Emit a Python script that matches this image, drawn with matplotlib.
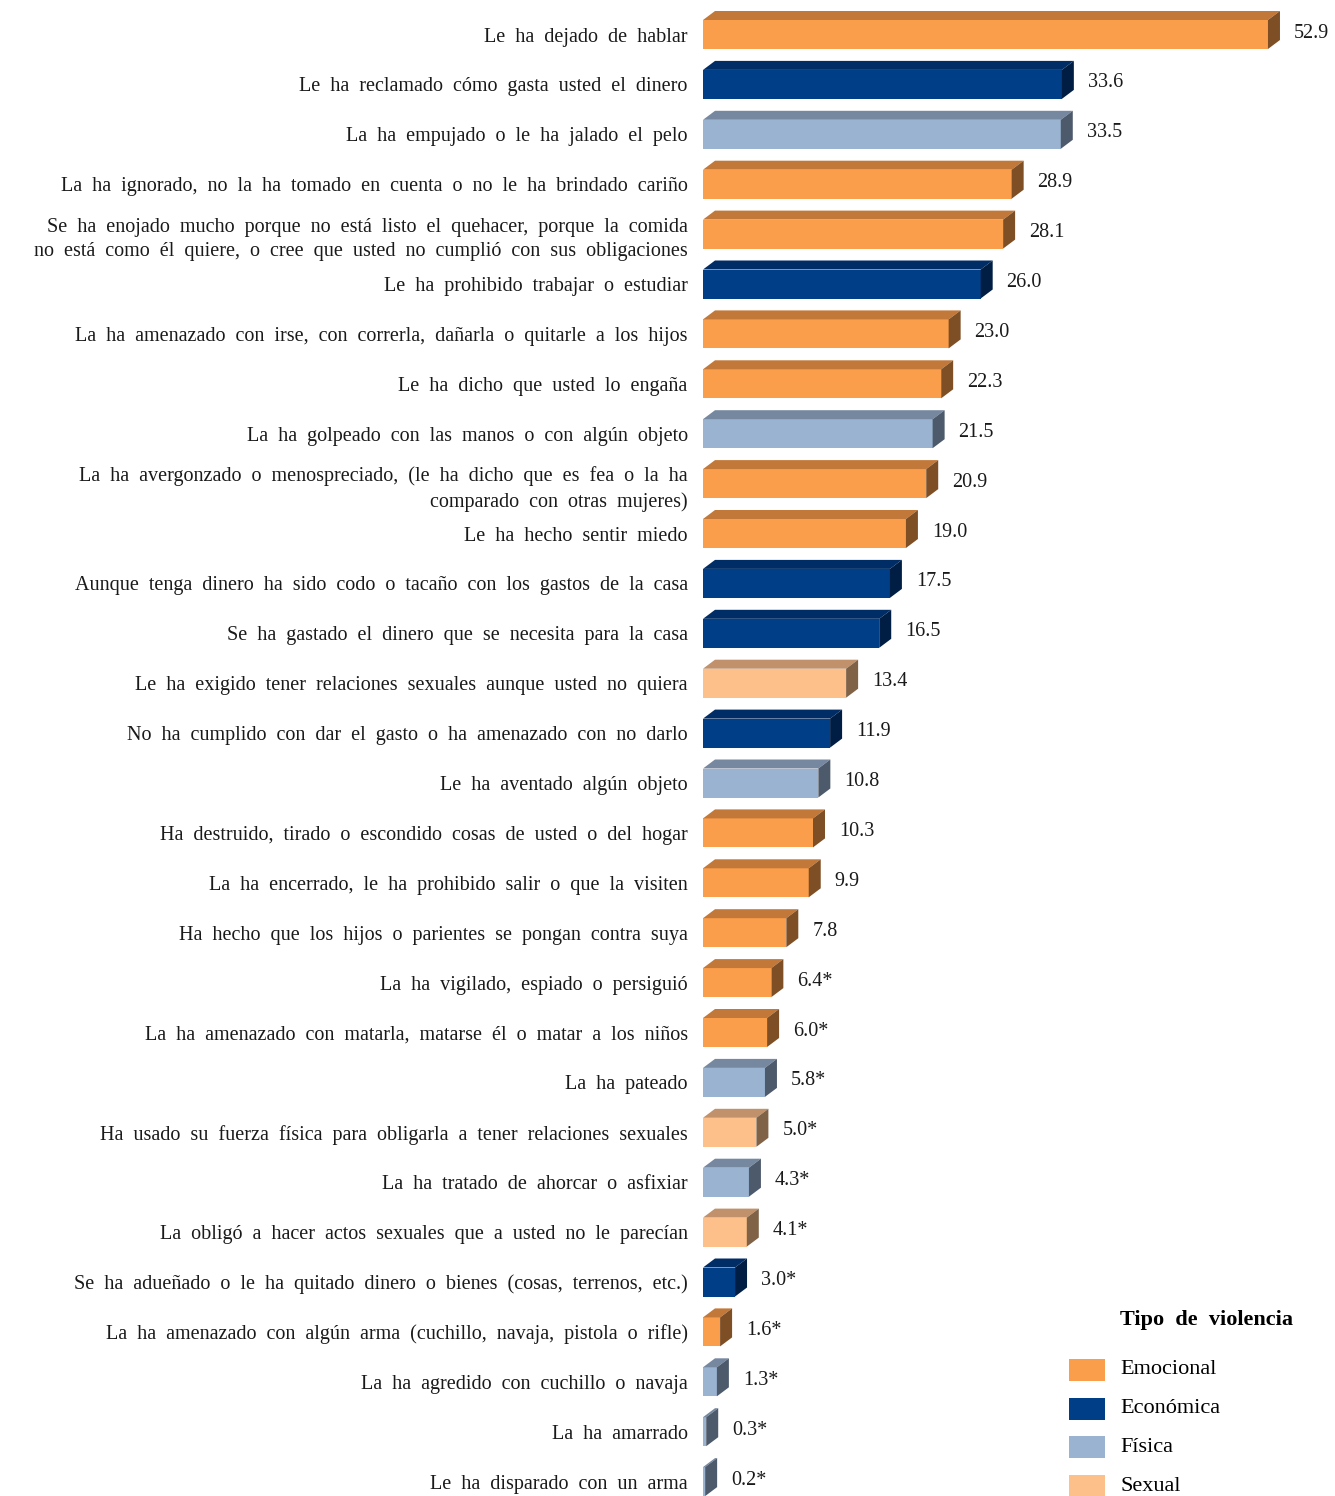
import numpy as np
import matplotlib.pyplot as plt
from matplotlib.patches import Polygon, Rectangle

plt.rcParams["font.family"] = ["Liberation Serif", "DejaVu Serif"]

# --- data (top to bottom) ---
labels = [
    "Le ha dejado de hablar",
    "Le ha reclamado cómo gasta usted el dinero",
    "La ha empujado o le ha jalado el pelo",
    "La ha ignorado, no la ha tomado en cuenta o no le ha brindado cariño",
    "Se ha enojado mucho porque no está listo el quehacer, porque la comida\n"
    "no está como él quiere, o cree que usted no cumplió con sus obligaciones",
    "Le ha prohibido trabajar o estudiar",
    "La ha amenazado con irse, con correrla, dañarla o quitarle a los hijos",
    "Le ha dicho que usted lo engaña",
    "La ha golpeado con las manos o con algún objeto",
    "La ha avergonzado o menospreciado, (le ha dicho que es fea o la ha\n"
    "comparado con otras mujeres)",
    "Le ha hecho sentir miedo",
    "Aunque tenga dinero ha sido codo o tacaño con los gastos de la casa",
    "Se ha gastado el dinero que se necesita para la casa",
    "Le ha exigido tener relaciones sexuales aunque usted no quiera",
    "No ha cumplido con dar el gasto o ha amenazado con no darlo",
    "Le ha aventado algún objeto",
    "Ha destruido, tirado o escondido cosas de usted o del hogar",
    "La ha encerrado, le ha prohibido salir o que la visiten",
    "Ha hecho que los hijos o parientes se pongan contra suya",
    "La ha vigilado, espiado o persiguió",
    "La ha amenazado con matarla, matarse él o matar a los niños",
    "La ha pateado",
    "Ha usado su fuerza física para obligarla a tener relaciones sexuales",
    "La ha tratado de ahorcar o asfixiar",
    "La obligó a hacer actos sexuales que a usted no le parecían",
    "Se ha adueñado o le ha quitado dinero o bienes (cosas, terrenos, etc.)",
    "La ha amenazado con algún arma (cuchillo, navaja, pistola o rifle)",
    "La ha agredido con cuchillo o navaja",
    "La ha amarrado",
    "Le ha disparado con un arma",
]
values = [52.9, 33.6, 33.5, 28.9, 28.1, 26.0, 23.0, 22.3, 21.5, 20.9,
          19.0, 17.5, 16.5, 13.4, 11.9, 10.8, 10.3, 9.9, 7.8, 6.4,
          6.0, 5.8, 5.0, 4.3, 4.1, 3.0, 1.6, 1.3, 0.3, 0.2]
flagged = [False] * 19 + [True] * 11   # values with asterisk
types = ["E", "Ec", "F", "E", "E", "Ec", "E", "E", "F", "E",
         "E", "Ec", "Ec", "S", "Ec", "F", "E", "E", "E", "E",
         "E", "F", "S", "F", "S", "Ec", "E", "F", "F", "F"]
legend_title = "Tipo de violencia"
legend_names = {"E": "Emocional", "Ec": "Económica", "F": "Física", "S": "Sexual"}

# front / top / side shades per type
palette = {
    "E":  ("#FB9E4B", "#C27838", "#7E4F25"),
    "Ec": ("#003F87", "#002D66", "#001D44"),
    "F":  ("#99B3D1", "#7688A0", "#4D5A6B"),
    "S":  ("#FDC08A", "#C0916A", "#806246"),
}


def spaced(s, k=2):
    # the original typesetting is loosely spaced; widen word gaps
    return s.replace(" ", " " * k)


W, H = 1335, 1496
fig = plt.figure(figsize=(W / 100, H / 100), dpi=100)
x0 = 703
px_per_unit = 10.68
xmax = (W - 10 - x0) / px_per_unit
pitch = 49.9
c0 = 34.5
ax = fig.add_axes([x0 / W, 0, (W - 10 - x0) / W, 1])
ax.set_xlim(0, xmax)
ax.set_ylim((H - c0) / pitch, -c0 / pitch)

n = len(values)
ypos = np.arange(n)
h = 29 / pitch
dx = 12 / px_per_unit
dy = 9 / pitch

fronts = [palette[t][0] for t in types]
ax.barh(ypos, values, height=h, color=fronts, linewidth=0, zorder=2)
for i, (v, t) in enumerate(zip(values, types)):
    _, top_c, side_c = palette[t]
    yt = i - h / 2
    yb = i + h / 2
    ax.add_patch(Polygon([(0, yt), (v, yt), (v + dx, yt - dy), (dx, yt - dy)],
                         closed=True, color=top_c, lw=0, zorder=2))
    ax.add_patch(Polygon([(v, yt), (v + dx, yt - dy), (v + dx, yb - dy), (v, yb)],
                         closed=True, color=side_c, lw=0, zorder=2))
    txt = f"{v:.1f}" + ("*" if flagged[i] else "")
    ax.text(v + dx + 1.3, i - 0.03, txt, ha="left", va="center",
            fontsize=14.5, color="#1a1a1a")

ax.set_yticks(ypos)
ax.set_yticklabels([spaced(l) for l in labels], fontsize=14.5, color="#1a1a1a",
                   ha="right", multialignment="right", linespacing=1.4)
ax.tick_params(axis="y", length=0, pad=11)
ax.set_xticks([])
for s in ax.spines.values():
    s.set_visible(False)

# legend drawn by hand
fig.text(1120 / W, 1 - 1320 / H, spaced(legend_title), fontsize=16,
         fontweight="bold", ha="left", va="center")
for k, key in enumerate(["E", "Ec", "F", "S"]):
    yc = 1370 + k * 38.7
    fig.add_artist(Rectangle((1069 / W, 1 - (yc + 11) / H), 36 / W, 22 / H,
                             transform=fig.transFigure, color=palette[key][0],
                             lw=0))
    fig.text(1120 / W, 1 - yc / H, legend_names[key], fontsize=16,
             ha="left", va="center")

fig.savefig("out.png", dpi=100)
